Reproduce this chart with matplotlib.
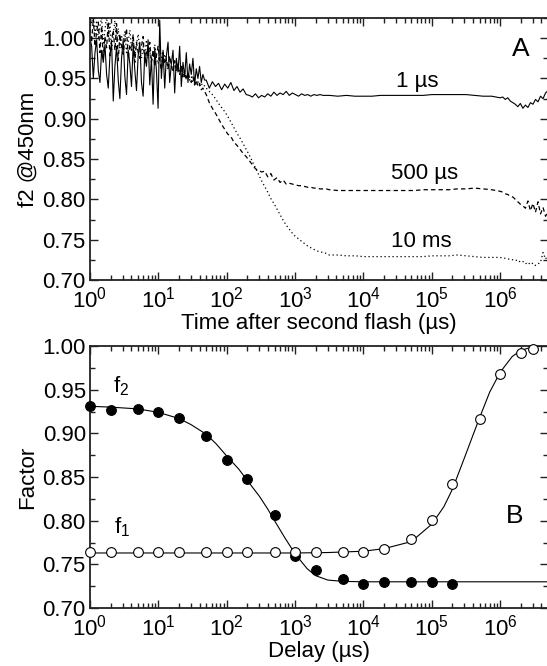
import numpy as np
import matplotlib
matplotlib.use("Agg")
import matplotlib.pyplot as plt
from matplotlib.ticker import MultipleLocator, LogLocator, FormatStrFormatter, NullFormatter

plt.rcParams['font.family'] = ['Liberation Sans', 'DejaVu Sans']
plt.rcParams['mathtext.fontset'] = 'custom'
plt.rcParams['mathtext.rm'] = 'Liberation Sans'
plt.rcParams['mathtext.it'] = 'Liberation Sans'
plt.rcParams['mathtext.default'] = 'regular'

# ---------------- Panel A data (time after second flash, us) ----------------
t_seg_a = np.logspace(0.0, 1.7, 70, endpoint=False)
t_seg_b = np.logspace(1.7, 3.5, 40, endpoint=False)
t_seg_c = np.logspace(3.5, 6.0, 20, endpoint=False)
t_seg_d = np.logspace(6.0, 6.7, 20)

trace_1us_a = [1.000, 0.990, 0.950, 0.982, 0.998, 0.960, 0.945, 0.985, 0.970, 0.992,
               0.955, 0.938, 0.978, 0.995, 0.922, 0.965, 0.990, 0.948, 0.925, 0.975,
               0.998, 0.952, 0.930, 0.985, 0.968, 0.940, 0.992, 0.960, 0.935, 0.978,
               0.995, 0.945, 0.928, 0.982, 0.965, 0.998, 0.942, 0.975, 0.918, 0.988,
               0.960, 0.913, 1.022, 0.950, 0.985, 0.938, 0.978, 0.995, 0.945, 0.968,
               0.985, 0.932, 0.975, 0.958, 0.990, 0.940, 0.970, 0.952, 0.982, 0.945,
               0.968, 0.955, 0.975, 0.942, 0.962, 0.950, 0.965, 0.945, 0.955, 0.948]
trace_1us_b = [0.948, 0.938, 0.946, 0.940, 0.944, 0.936, 0.943, 0.938, 0.945, 0.935,
               0.940, 0.933, 0.937, 0.930, 0.929, 0.927, 0.931, 0.926, 0.929, 0.927,
               0.931, 0.928, 0.933, 0.929, 0.932, 0.930, 0.934, 0.929, 0.932, 0.930,
               0.928, 0.931, 0.929, 0.930, 0.928, 0.930, 0.929, 0.930, 0.929, 0.929]
trace_1us_c = [0.929, 0.928, 0.929, 0.928, 0.928, 0.928, 0.929, 0.929, 0.929, 0.929,
               0.929, 0.929, 0.930, 0.930, 0.930, 0.930, 0.930, 0.929, 0.928, 0.928]
trace_1us_d = [0.926, 0.927, 0.924, 0.926, 0.922, 0.920, 0.918, 0.915, 0.919, 0.913,
               0.917, 0.914, 0.920, 0.918, 0.924, 0.921, 0.928, 0.925, 0.932, 0.935]

trace_500us_a = [1.012, 0.995, 1.025, 0.990, 1.008, 1.020, 0.982, 1.015, 0.975, 1.002,
                 0.988, 1.020, 0.978, 0.998, 1.010, 0.985, 1.018, 0.972, 1.005, 0.990,
                 0.980, 0.998, 1.012, 0.975, 0.992, 0.985, 1.005, 0.970, 0.995, 0.982,
                 0.975, 0.990, 1.002, 0.968, 0.985, 0.978, 0.995, 0.970, 0.985, 0.965,
                 0.978, 0.990, 0.972, 0.960, 0.982, 0.968, 0.975, 0.962, 0.978, 0.965,
                 0.958, 0.972, 0.960, 0.968, 0.955, 0.965, 0.952, 0.960, 0.948, 0.958,
                 0.950, 0.945, 0.952, 0.942, 0.948, 0.940, 0.944, 0.936, 0.938, 0.934]
trace_500us_b = [0.930, 0.920, 0.913, 0.907, 0.900, 0.893, 0.887, 0.881, 0.878, 0.871,
                 0.867, 0.862, 0.857, 0.853, 0.848, 0.843, 0.838, 0.836, 0.834, 0.835,
                 0.828, 0.832, 0.824, 0.827, 0.821, 0.824, 0.819, 0.820, 0.819, 0.818,
                 0.817, 0.817, 0.816, 0.815, 0.815, 0.814, 0.814, 0.813, 0.813, 0.813]
trace_500us_c = [0.812, 0.811, 0.811, 0.811, 0.811, 0.811, 0.811, 0.811, 0.811, 0.811,
                 0.811, 0.812, 0.812, 0.812, 0.812, 0.813, 0.813, 0.814, 0.813, 0.812]
trace_500us_d = [0.810, 0.809, 0.807, 0.806, 0.804, 0.803, 0.800, 0.797, 0.794, 0.792,
                 0.789, 0.798, 0.786, 0.795, 0.784, 0.797, 0.782, 0.790, 0.779, 0.785]

trace_10ms_a = [1.030, 1.018, 1.028, 1.005, 1.022, 0.998, 1.015, 1.025, 0.992, 1.010,
                1.028, 1.000, 1.018, 0.985, 1.005, 1.022, 0.995, 1.012, 0.988, 1.002,
                0.998, 1.008, 0.982, 0.995, 1.010, 0.988, 1.000, 0.978, 0.992, 1.005,
                0.985, 0.975, 0.990, 0.980, 0.998, 0.975, 0.985, 0.970, 0.982, 0.992,
                0.975, 0.968, 0.985, 0.978, 0.965, 0.980, 0.972, 0.962, 0.975, 0.968,
                0.960, 0.970, 0.958, 0.965, 0.955, 0.962, 0.952, 0.958, 0.950, 0.955,
                0.948, 0.952, 0.945, 0.948, 0.943, 0.946, 0.941, 0.944, 0.940, 0.941]
trace_10ms_b = [0.938, 0.934, 0.930, 0.925, 0.919, 0.914, 0.909, 0.903, 0.896, 0.889,
                0.882, 0.876, 0.869, 0.862, 0.855, 0.847, 0.839, 0.831, 0.823, 0.816,
                0.809, 0.801, 0.795, 0.788, 0.781, 0.774, 0.768, 0.763, 0.758, 0.754,
                0.751, 0.748, 0.745, 0.742, 0.740, 0.738, 0.736, 0.735, 0.734, 0.733]
trace_10ms_c = [0.731, 0.731, 0.730, 0.730, 0.729, 0.729, 0.729, 0.729, 0.729, 0.729,
                0.729, 0.729, 0.730, 0.730, 0.730, 0.731, 0.730, 0.729, 0.728, 0.728]
trace_10ms_d = [0.728, 0.727, 0.727, 0.726, 0.726, 0.725, 0.724, 0.725, 0.722, 0.723,
                0.720, 0.722, 0.719, 0.721, 0.718, 0.720, 0.722, 0.734, 0.726, 0.731]

trace_labels = ['1 µs', '500 µs', '10 ms']

# ---------------- Panel B data (delay, us) ----------------
delay_f2 = [1, 2, 5, 10, 20, 50, 100, 200, 500, 1e3, 2e3, 5e3, 1e4, 2e4, 5e4, 1e5, 2e5]
f2_vals = [0.931, 0.927, 0.928, 0.925, 0.918, 0.897, 0.869, 0.848, 0.806, 0.760,
           0.743, 0.733, 0.728, 0.730, 0.730, 0.730, 0.727]
delay_f1 = [1, 2, 5, 10, 20, 50, 100, 200, 500, 1e3, 2e3, 5e3, 1e4, 2e4, 5e4, 1e5,
            2e5, 5e5, 1e6, 2e6, 3e6]
f1_vals = [0.764, 0.764, 0.764, 0.764, 0.764, 0.764, 0.764, 0.764, 0.764, 0.764,
           0.764, 0.764, 0.764, 0.767, 0.779, 0.801, 0.842, 0.916, 0.968, 0.992, 0.996]

fit_f2_t = [1, 2, 5, 10, 20, 30, 50, 70, 100, 150, 200, 300, 400, 500, 700, 1000,
            1500, 2000, 3000, 5000, 1e4, 1e5, 5e6]
fit_f2_v = [0.931, 0.930, 0.928, 0.924, 0.917, 0.910, 0.899, 0.888, 0.874, 0.859,
            0.846, 0.828, 0.813, 0.800, 0.781, 0.762, 0.745, 0.737, 0.732, 0.7305,
            0.730, 0.730, 0.730]
fit_f1_t = [1, 1e3, 3e3, 1e4, 2e4, 5e4, 1e5, 1.5e5, 2e5, 3e5, 4e5, 5e5, 7e5, 1e6,
            1.5e6, 2e6, 3e6, 5e6]
fit_f1_v = [0.763, 0.763, 0.7635, 0.765, 0.768, 0.776, 0.796, 0.816, 0.836, 0.872,
            0.898, 0.918, 0.947, 0.970, 0.988, 0.995, 0.999, 1.000]

# ---------------- Figure ----------------
fig = plt.figure(figsize=(5.47, 6.66), dpi=100)
axA = fig.add_axes([90/547, 386/666, 458/547, 262/666])
axB = fig.add_axes([90/547, 58/666, 458/547, 262/666])

FS = 16

def style(ax):
    ax.set_xscale('log')
    ax.set_xlim(1, 5e6)
    ax.set_ylim(0.70, 1.0)
    ax.xaxis.set_major_locator(LogLocator(base=10, numticks=20))
    ax.xaxis.set_minor_locator(LogLocator(base=10, subs=np.arange(2, 10), numticks=20))
    ax.xaxis.set_minor_formatter(NullFormatter())
    ax.yaxis.set_major_locator(MultipleLocator(0.05))
    ax.yaxis.set_minor_locator(MultipleLocator(0.025))
    ax.yaxis.set_major_formatter(FormatStrFormatter('%.2f'))
    ax.tick_params(which='both', direction='in', top=True, right=True,
                   labelsize=FS, width=1.0, color='#222222')
    ax.tick_params(axis='y', which='both', pad=3)
    ax.tick_params(axis='x', which='both', pad=5)
    ax.tick_params(which='major', length=6)
    ax.tick_params(which='minor', length=3.5)
    for s in ax.spines.values():
        s.set_linewidth(1.3)
        s.set_color('#222222')

style(axA)
style(axB)
axA.set_ylim(0.70, 1.025)

t_all = np.concatenate([t_seg_a, t_seg_b, t_seg_c, t_seg_d])
y1 = np.concatenate([trace_1us_a, trace_1us_b, trace_1us_c, trace_1us_d])
y2 = np.concatenate([trace_500us_a, trace_500us_b, trace_500us_c, trace_500us_d])
y3 = np.concatenate([trace_10ms_a, trace_10ms_b, trace_10ms_c, trace_10ms_d])

axA.plot(t_all, y1, color='black', lw=0.8, ls='-')
axA.plot(t_all, y2, color='black', lw=0.9, ls=(0, (3.5, 2.5)))
axA.plot(t_all, y3, color='black', lw=0.9, ls=(0, (1, 2.2)))

axA.text(6.2e4, 0.946, trace_labels[0], fontsize=FS, ha='center', va='center')
axA.text(7.8e4, 0.832, trace_labels[1], fontsize=FS, ha='center', va='center')
axA.text(7.0e4, 0.748, trace_labels[2], fontsize=FS, ha='center', va='center')
axA.text(2.0e6, 0.986, 'A', fontsize=FS + 3, ha='center', va='center')
axA.set_xlabel('Time after second flash (µs)', fontsize=FS, labelpad=0)
axA.set_ylabel('f2 @450nm', fontsize=FS, labelpad=3)

axB.plot(fit_f2_t, fit_f2_v, color='black', lw=0.8)
axB.plot(fit_f1_t, fit_f1_v, color='black', lw=0.8)
axB.plot(delay_f2, f2_vals, 'o', ms=7, mfc='black', mec='black', mew=0.8, clip_on=False, zorder=3)
axB.plot(delay_f1, f1_vals, 'o', ms=7, mfc='white', mec='black', mew=0.8, clip_on=False, zorder=3)

axB.text(2.9, 0.954, r'f$_{2}$', fontsize=FS, ha='center', va='center')
axB.text(2.9, 0.793, r'f$_{1}$', fontsize=FS, ha='center', va='center')
axB.text(1.6e6, 0.805, 'B', fontsize=FS + 3, ha='center', va='center')
axB.set_xlabel('Delay (µs)', fontsize=FS, labelpad=0)
axB.set_ylabel('Factor', fontsize=FS, labelpad=3)

fig.savefig('out.png', dpi=100)
